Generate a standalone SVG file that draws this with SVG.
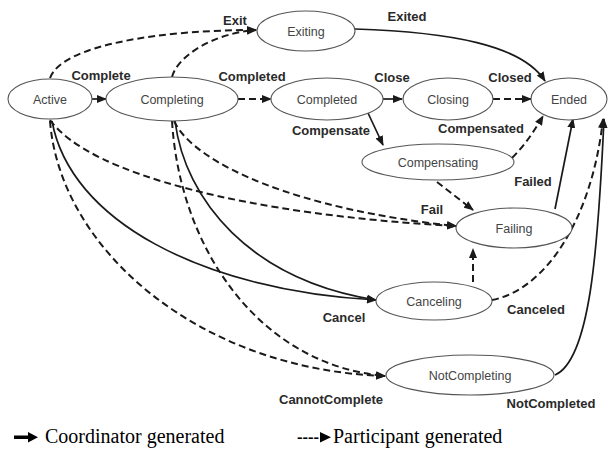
<svg xmlns="http://www.w3.org/2000/svg" width="612" height="465" viewBox="0 0 612 465">
<defs>
<marker id="ah" markerUnits="userSpaceOnUse" markerWidth="10" markerHeight="8" refX="9" refY="4" orient="auto">
<path d="M0,0 L10,4 L0,8 z" fill="#1a1a1a"/>
</marker>
<style>
.node ellipse{fill:#fff;stroke:#555;stroke-width:1.1}
.node text{font-family:"Liberation Sans",Arial,sans-serif;font-size:12.5px;fill:#444;text-anchor:middle}
.c{fill:none;stroke:#1a1a1a;marker-end:url(#ah)}
.s{stroke-width:1.7}
.d{stroke-width:2;stroke-dasharray:7,4}
.lbl{font-family:"Liberation Sans",Arial,sans-serif;font-size:13px;font-weight:bold;fill:#2a2a2a;text-anchor:middle}
.leg{font-family:"Liberation Serif","Times New Roman",serif;font-size:20px;fill:#000}
</style>
</defs>
<rect width="612" height="465" fill="#fff"/>
<g id="connectors">
<path class="c d" d="M50,78 C62,45 160,30 256,30"/>
<path class="c d" d="M172,77 C178,55 215,33 256,30"/>
<path class="c s" d="M355,29 C450,32 522,45 545,81"/>
<path class="c s" d="M92,99 L106,99"/>
<path class="c d" d="M238,99 L271,99"/>
<path class="c s" d="M383,99 L402,99"/>
<path class="c d" d="M493,99 L531,99"/>
<path class="c s" d="M368,113 L383,145"/>
<path class="c d" d="M512,158 C525,145 535,130 543,116"/>
<path class="c d" d="M437,182 L473,210"/>
<path class="c s" d="M555,209 L573,119"/>
<path class="c d" d="M50,120 C90,175 250,215 456,226"/>
<path class="c d" d="M174,121 C195,165 300,210 456,226"/>
<path class="c s" d="M52,121 C70,220 200,290 376,300"/>
<path class="c s" d="M175,121 C185,200 250,280 376,300"/>
<path class="c d" d="M50,121 C60,250 200,370 385,376"/>
<path class="c d" d="M172,121 C180,250 260,365 385,376"/>
<path class="c d" d="M473,282 L473,249"/>
<path class="c d" d="M492,300 C545,290 592,220 603,119"/>
<path class="c s" d="M555,375 C590,360 598,250 604,119"/>
</g>
<g id="labels">
<text class="lbl" x="235" y="25">Exit</text>
<text class="lbl" x="407" y="21">Exited</text>
<text class="lbl" x="101" y="80">Complete</text>
<text class="lbl" x="252" y="81">Completed</text>
<text class="lbl" x="392" y="82">Close</text>
<text class="lbl" x="510" y="82">Closed</text>
<text class="lbl" x="331" y="135">Compensate</text>
<text class="lbl" x="481" y="133">Compensated</text>
<text class="lbl" x="533" y="186">Failed</text>
<text class="lbl" x="432" y="214">Fail</text>
<text class="lbl" x="344" y="322">Cancel</text>
<text class="lbl" x="536" y="314">Canceled</text>
<text class="lbl" x="331" y="404">CannotComplete</text>
<text class="lbl" x="551" y="408">NotCompleted</text>
</g>
<g id="Active" class="node"><ellipse cx="50" cy="99" rx="42" ry="20"/><text x="50" y="103.5">Active</text></g>
<g id="Completing" class="node"><ellipse cx="172" cy="99" rx="66" ry="22"/><text x="172" y="103.5">Completing</text></g>
<g id="Completed" class="node"><ellipse cx="327" cy="99" rx="56" ry="21"/><text x="327" y="103.5">Completed</text></g>
<g id="Closing" class="node"><ellipse cx="448" cy="99" rx="45" ry="21"/><text x="448" y="103.5">Closing</text></g>
<g id="Ended" class="node"><ellipse cx="569" cy="99" rx="38" ry="21"/><text x="569" y="103.5">Ended</text></g>
<g id="Exiting" class="node"><ellipse cx="306" cy="31" rx="49" ry="20"/><text x="306" y="35.5">Exiting</text></g>
<g id="Compensating" class="node"><ellipse cx="438" cy="162" rx="76" ry="18"/><text x="438" y="166.5">Compensating</text></g>
<g id="Failing" class="node"><ellipse cx="514" cy="228" rx="58" ry="20"/><text x="514" y="232.5">Failing</text></g>
<g id="Canceling" class="node"><ellipse cx="434" cy="301" rx="58" ry="19"/><text x="434" y="305.5">Canceling</text></g>
<g id="NotCompleting" class="node"><ellipse cx="470" cy="375" rx="84" ry="20"/><text x="470" y="379.5">NotCompleting</text></g>
<g id="legend">
<rect x="14" y="435.5" width="14" height="3.5" fill="#000"/>
<polygon points="28,432 38,437.2 28,442.4" fill="#000"/>
<text class="leg" x="45" y="443">Coordinator generated</text>
<text class="leg" x="297" y="443" textLength="22" lengthAdjust="spacingAndGlyphs">----</text>
<polygon points="320,432 331,437.2 320,442.4" fill="#000"/>
<text class="leg" x="333" y="443">Participant generated</text>
</g>
</svg>
